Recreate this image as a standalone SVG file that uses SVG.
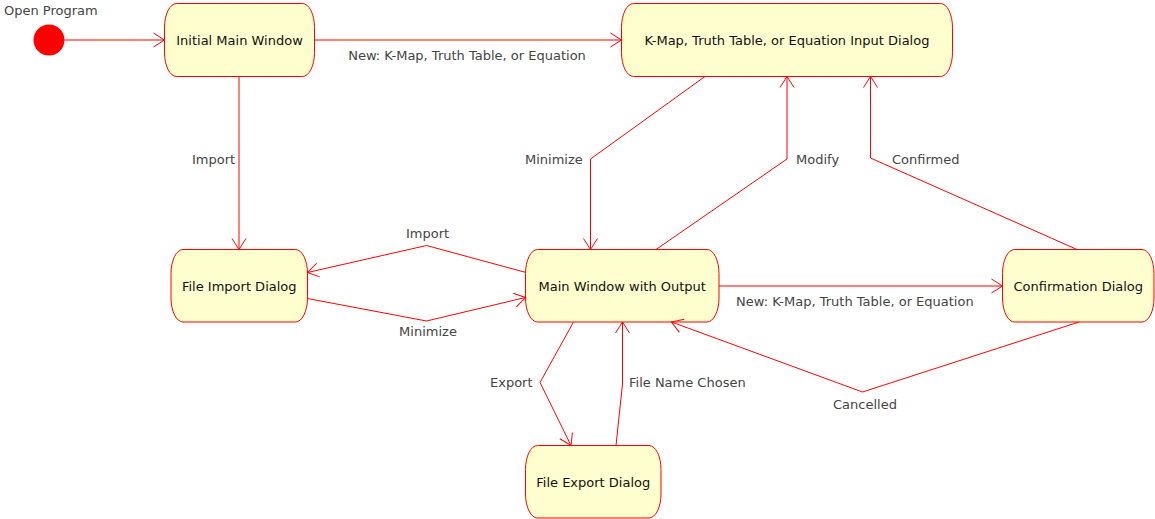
<svg xmlns="http://www.w3.org/2000/svg" width="1155" height="519" viewBox="0 0 1155 519">
<style>
.st{fill:#FEFECE;stroke:#FF0000;stroke-width:1}
.nt{font-family:"DejaVu Sans",sans-serif;font-size:13px;fill:#111;text-anchor:middle}
.el{font-family:"DejaVu Sans",sans-serif;font-size:13px;fill:#444}
.ed{fill:none;stroke:#FF0000;stroke-width:1;marker-end:url(#arr)}
</style>
<defs>
<marker id="arr" markerUnits="userSpaceOnUse" markerWidth="14" markerHeight="16" viewBox="0 0 14 16" refX="12" refY="8" orient="auto">
<path d="M1,1 L12,8 L1,15" fill="none" stroke="#FF0000" stroke-width="1"/>
</marker>
</defs>
<rect width="1155" height="519" fill="#FFFFFF"/>
<g id="start">
<circle cx="49" cy="40" r="15.5" fill="#FF0000"/>
<text class="el" x="4" y="15">Open Program</text>
</g>
<g id="initialMainWindow">
<rect class="st" x="164.5" y="3.5" width="150" height="73" rx="12" ry="24"/>
<text class="nt" x="239.5" y="44.5">Initial Main Window</text>
</g>
<g id="inputDialog">
<rect class="st" x="621.5" y="3.5" width="331" height="73" rx="12" ry="24"/>
<text class="nt" x="787" y="44.5">K-Map, Truth Table, or Equation Input Dialog</text>
</g>
<g id="fileImportDialog">
<rect class="st" x="171" y="249.5" width="136.5" height="72.5" rx="12" ry="24"/>
<text class="nt" x="239.25" y="290.5">File Import Dialog</text>
</g>
<g id="mainWindowOutput">
<rect class="st" x="525.5" y="249.5" width="193.5" height="72.5" rx="12" ry="24"/>
<text class="nt" x="622.25" y="290.5">Main Window with Output</text>
</g>
<g id="confirmationDialog">
<rect class="st" x="1002.5" y="249.5" width="151.5" height="72.5" rx="12" ry="24"/>
<text class="nt" x="1078.25" y="290.5">Confirmation Dialog</text>
</g>
<g id="fileExportDialog">
<rect class="st" x="525.5" y="445.5" width="135.5" height="72.5" rx="12" ry="24"/>
<text class="nt" x="593.25" y="486.5">File Export Dialog</text>
</g>
<g id="connectors">
<path class="ed" d="M64.5,40 L164.5,40"/>
<path class="ed" d="M314.5,40 L621.5,40"/>
<text class="el" x="467" y="60" text-anchor="middle">New: K-Map, Truth Table, or Equation</text>
<path class="ed" d="M239,76.5 L239,249.5"/>
<text class="el" x="192" y="164">Import</text>
<path class="ed" d="M705,76.5 L590.5,159 L590.5,249.5"/>
<text class="el" x="525" y="164">Minimize</text>
<path class="ed" d="M656,249.5 L787,159 L787,76.5"/>
<text class="el" x="796" y="164">Modify</text>
<path class="ed" d="M1077,249.5 L870.5,158 L870.5,76.5"/>
<text class="el" x="892" y="164">Confirmed</text>
<path class="ed" d="M526,272.5 L426.5,245.5 L307.5,272.5"/>
<text class="el" x="427.5" y="238" text-anchor="middle">Import</text>
<path class="ed" d="M307.5,298.5 L426.5,321 L525.5,297.5"/>
<text class="el" x="428" y="336" text-anchor="middle">Minimize</text>
<path class="ed" d="M719,286 L1002.5,286"/>
<text class="el" x="736" y="306">New: K-Map, Truth Table, or Equation</text>
<path class="ed" d="M1079,322 L862.5,392 L671.5,322"/>
<text class="el" x="865" y="409" text-anchor="middle">Cancelled</text>
<path class="ed" d="M573.5,322 L540,382.5 L571,445.5"/>
<text class="el" x="490" y="387">Export</text>
<path class="ed" d="M616,445.5 L622.5,384 L622.5,322"/>
<text class="el" x="629" y="387">File Name Chosen</text>
</g>
</svg>
